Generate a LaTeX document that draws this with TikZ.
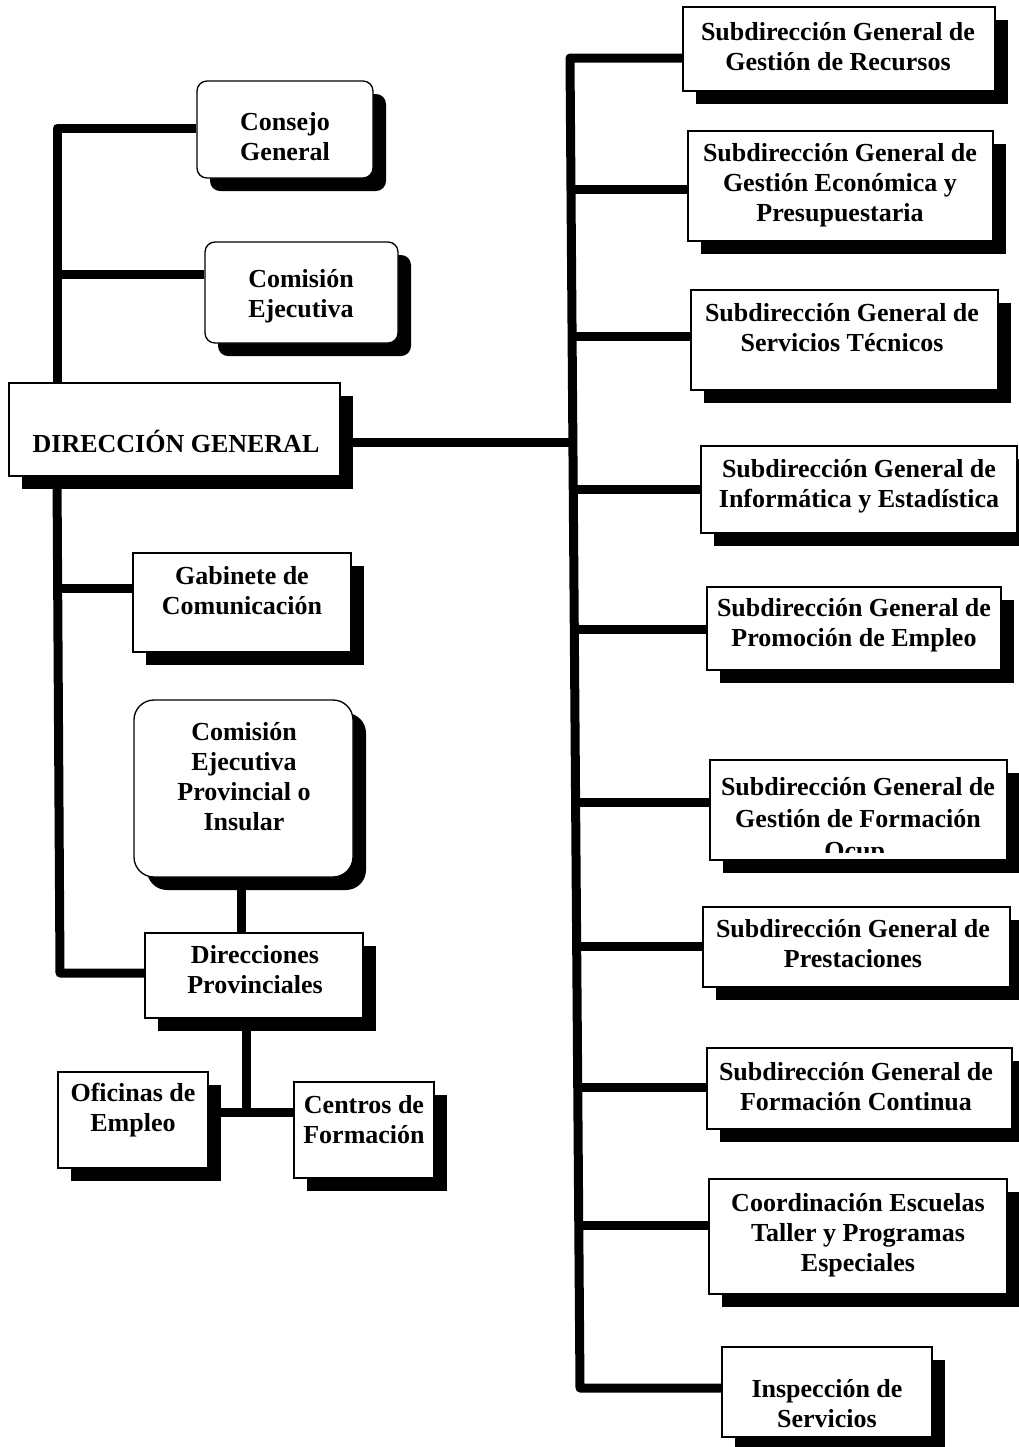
\documentclass[tikz,border=0pt]{standalone}
\usepackage{fontspec}
\setmainfont{Liberation Serif}
\usetikzlibrary{fit,shadows}
\tikzset{
  box/.style={draw=black, line width=1pt, fill=white, inner sep=0pt,
    drop shadow={shadow xshift=9.75pt, shadow yshift=-9.75pt, fill=black, opacity=1}},
  rbox/.style={box, rounded corners=7.5pt},
  bigrbox/.style={box, rounded corners=15pt},
  txt/.style={font=\fontsize{19.5}{22.5}\selectfont\bfseries, align=center, inner sep=0pt},
  conn/.style={line width=6.75pt, line join=round},
}
\begin{document}
\begin{tikzpicture}[x=0.75pt,y=-0.75pt]
\useasboundingbox (0,0) rectangle (1019,1447);

% ---- left column boxes ----
\node[rbox, fit={(197,81) (373,178)}] (cg) {};
\node[rbox, fit={(205,242) (398,343)}] (ce) {};
\node[box, fit={(9,383) (340,476)}] (dg) {};
\node[box, fit={(133,553) (351,652)}] (gc) {};
\node[bigrbox, fit={(134,700) (353,877)}] (cp) {};
\node[box, fit={(145,933) (363,1018)}] (dp) {};
\node[box, fit={(58,1072) (208,1168)}] (of) {};
\node[box, fit={(294,1082) (434,1178)}] (cf) {};

% ---- right column boxes ----
\node[box, fit={(683,7) (995,91)}] (rec) {};
\node[box, fit={(688,131) (993,241)}] (eco) {};
\node[box, fit={(691,290) (998,390)}] (ser) {};
\node[box, fit={(701,446) (1017,533)}] (inf) {};
\node[box, fit={(707,587) (1001,670)}] (pro) {};
\node[box, fit={(710,760) (1007,860)}] (ocu) {};
\node[box, fit={(703,907) (1010,987)}] (pre) {};
\node[box, fit={(707,1048) (1012,1129)}] (con) {};
\node[box, fit={(709,1179) (1007,1294)}] (coo) {};
\node[box, fit={(722,1347) (932,1437)}] (ins) {};

% ---- texts ----
\node[txt] (t-cg) at (285,137) {Consejo\\General};
\node[txt] (t-ce) at (301,296) {Comisión\\Ejecutiva};
\node[txt] (t-dg) at (176,441) {DIRECCIÓN GENERAL};
\node[txt] (t-gc) at (242,591) {Gabinete de\\Comunicación};
\node[txt] (t-cp) at (244,777) {Comisión\\Ejecutiva\\Provincial o\\Insular};
\node[txt] (t-dp) at (255,970) {Direcciones\\Provinciales};
\node[txt] (t-of) at (133,1110) {Oficinas de\\Empleo};
\node[txt] (t-cf) at (364,1120) {Centros de\\Formación};

\node[txt] (t-rec) at (838,47) {Subdirección General de\\Gestión de Recursos};
\node[txt] (t-eco) at (840,185) {Subdirección General de\\Gestión Económica y\\Presupuestaria};
\node[txt] (t-ser) at (842,328) {Subdirección General de\\Servicios Técnicos};
\node[txt] (t-inf) at (859,486) {Subdirección General de\\Informática y Estadística};
\node[txt] (t-pro) at (854,625) {Subdirección General de\\Promoción de Empleo};
\begin{scope}
  \clip (700,750) rectangle (1012,852);
  \node[txt, font=\fontsize{19.5}{24}\selectfont\bfseries, anchor=north] (t-ocu) at (858,777) {Subdirección General de\\Gestión de Formación\\Ocup.};
\end{scope}
\node[txt] (t-pre) at (853,944) {Subdirección General de\\Prestaciones};
\node[txt] (t-con) at (856,1087) {Subdirección General de\\Formación Continua};
\node[txt] (t-coo) at (858,1235) {Coordinación Escuelas\\Taller y Programas\\Especiales};
\node[txt] (t-ins) at (827,1404) {Inspección de\\Servicios};

% ---- left connectors ----
\coordinate (lt) at (57,128);
\coordinate (lce) at (57,274);
\coordinate (l0) at (57,476);
\coordinate (lg) at (58,588);
\coordinate (ld) at (60,973);
\draw[conn] (cg.west |- lt) -- (lt) -- (lt |- dg.north);
\draw[conn] (lce) -- (ce.west |- lce);
\draw[conn] (l0) -- (ld) -- (dp.west |- ld);
\draw[conn] (lg) -- (gc.west |- lg);

\coordinate (cpx) at (241,0);
\draw[conn] (cp.south -| cpx) -- (dp.north -| cpx);
\coordinate (dpx) at (246,1112);
\draw[conn] (dp.south -| dpx) -- (dpx);
\draw[conn] (of.east |- dpx) -- (cf.west |- dpx);

% ---- right connectors ----
\coordinate (r0) at (570,58);
\coordinate (rdg) at (573,442);
\coordinate (reco) at (571,189);
\coordinate (rser) at (572,336);
\coordinate (rinf) at (573,489);
\coordinate (rpro) at (574,629);
\coordinate (rocu) at (576,802);
\coordinate (rpre) at (577,946);
\coordinate (rcon) at (578,1087);
\coordinate (rcoo) at (579,1225);
\coordinate (rins) at (580,1388);
\draw[conn] (rec.west |- r0) -- (r0) -- (rins) -- (ins.west |- rins);
\draw[conn] (dg.east |- rdg) -- (rdg);
\draw[conn] (reco) -- (eco.west |- reco);
\draw[conn] (rser) -- (ser.west |- rser);
\draw[conn] (rinf) -- (inf.west |- rinf);
\draw[conn] (rpro) -- (pro.west |- rpro);
\draw[conn] (rocu) -- (ocu.west |- rocu);
\draw[conn] (rpre) -- (pre.west |- rpre);
\draw[conn] (rcon) -- (con.west |- rcon);
\draw[conn] (rcoo) -- (coo.west |- rcoo);
\end{tikzpicture}
\end{document}
